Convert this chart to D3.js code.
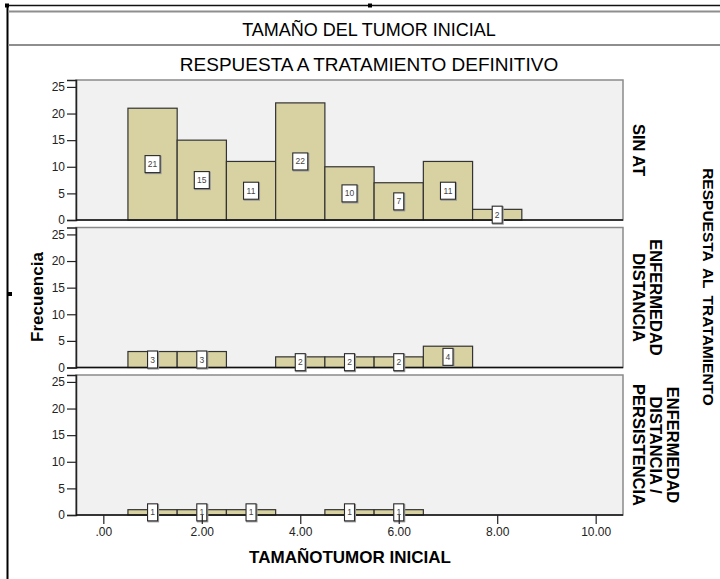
<!DOCTYPE html>
<html>
<head>
<meta charset="utf-8">
<script src="https://cdn.jsdelivr.net/npm/d3@7"></script>
<style>
  body { margin: 0; background: #fff; }
  svg { display: block; }
  text { font-family: "Liberation Sans", Arial, sans-serif; }
</style>
</head>
<body>
<svg id="chart" width="720" height="579"></svg>
<script>
// Histogram bins (tumour size, width 1, centred on whole numbers)
const binCenters = [1, 2, 3, 4, 5, 6, 7, 8];
// Frequencies per response group
const sinAT = [21, 15, 11, 22, 10, 7, 11, 2];
const enfermedadDistancia = [3, 3, 0, 2, 2, 2, 4, 0];
const distanciaPersistencia = [1, 1, 1, 0, 1, 1, 0, 0];
const panelSeries = [sinAT, enfermedadDistancia, distanciaPersistencia];
const panelLabels = [
  ["SIN AT"],
  ["ENFERMEDAD", "DISTANCIA"],
  ["ENFERMEDAD", "DISTANCIA /", "PERSISTENCIA"]
];
const yTicks = [0, 5, 10, 15, 20, 25];
const xTicks = [0, 2, 4, 6, 8, 10];
const xTickLabels = [".00", "2.00", "4.00", "6.00", "8.00", "10.00"];

const svg = d3.select("#chart");
const plotLeft = 76, plotRight = 623;
const panelTops = [80, 227.5, 375];
const panelH = 140;
const barFill = "#d8d2a2";

const x = d3.scaleLinear().domain([-0.555, 10.555]).range([plotLeft, plotRight]);

// Frame around the chart object
svg.append("line").attr("x1", 7.5).attr("x2", 7.5).attr("y1", 5).attr("y2", 579)
  .attr("stroke", "#000").attr("stroke-width", 2);
svg.append("line").attr("x1", 6).attr("x2", 720).attr("y1", 5.5).attr("y2", 5.5)
  .attr("stroke", "#111").attr("stroke-width", 1.5);
[[5, 3.5], [368, 3.5], [8, 292]].forEach(([hx, hy]) => {
  svg.append("rect").attr("x", hx).attr("y", hy).attr("width", 4).attr("height", 4).attr("fill", "#000");
});
[11.5, 45].forEach(yy => {
  svg.append("line").attr("x1", 8).attr("x2", 720).attr("y1", yy).attr("y2", yy)
    .attr("stroke", "#8e8e8e").attr("stroke-width", 2);
});

svg.append("text").attr("x", 369).attr("y", 36).attr("text-anchor", "middle")
  .attr("font-size", 18).attr("fill", "#000").text("TAMAÑO DEL TUMOR INICIAL");
svg.append("text").attr("x", 369).attr("y", 71).attr("text-anchor", "middle")
  .attr("font-size", 19).attr("fill", "#000").text("RESPUESTA A TRATAMIENTO DEFINITIVO");

panelSeries.forEach((values, i) => {
  const top = panelTops[i];
  const y = d3.scaleLinear().domain([0, 26.3]).range([top + panelH, top]);
  const g = svg.append("g");

  g.append("rect").attr("x", plotLeft).attr("y", top)
    .attr("width", plotRight - plotLeft).attr("height", panelH)
    .attr("fill", "#f1f1f1").attr("stroke", "#8a8a8a").attr("stroke-width", 1.5);

  const bins = binCenters.map((c, k) => ({ c, v: values[k] })).filter(d => d.v > 0);

  g.selectAll("rect.bar").data(bins).join("rect").attr("class", "bar")
    .attr("x", d => x(d.c - 0.5)).attr("y", d => y(d.v))
    .attr("width", d => x(d.c + 0.5) - x(d.c - 0.5))
    .attr("height", d => y(0) - y(d.v))
    .attr("fill", barFill).attr("stroke", "#333").attr("stroke-width", 1.2);

  // y axis
  const ya = g.append("g").attr("transform", `translate(${plotLeft},0)`)
    .call(d3.axisLeft(y).tickValues(yTicks).tickSize(9).tickPadding(2));
  ya.select(".domain").attr("stroke", "#222").attr("stroke-width", 1.5);
  ya.selectAll(".tick line").attr("stroke", "#222").attr("stroke-width", 1.2);
  ya.selectAll(".tick text").attr("font-size", 12).attr("fill", "#222")
    .attr("font-family", "Liberation Sans, Arial, sans-serif");

  // baseline
  g.append("line").attr("x1", plotLeft).attr("x2", plotRight)
    .attr("y1", y(0)).attr("y2", y(0)).attr("stroke", "#111").attr("stroke-width", 1.5);

  // count labels
  const boxW = d => String(d.v).length * 5 + 5;
  const lab = g.selectAll("g.lab").data(bins).join("g").attr("class", "lab")
    .attr("transform", d => `translate(${x(d.c)},${y(d.v / 2)})`);
  lab.append("rect")
    .attr("x", d => -boxW(d) / 2 + 0.8)
    .attr("y", -8.5 + 0.8)
    .attr("width", boxW).attr("height", 17)
    .attr("fill", "none").attr("stroke", "#9a9a9a").attr("stroke-width", 1.5);
  lab.append("rect")
    .attr("x", d => -boxW(d) / 2)
    .attr("y", -8.5)
    .attr("width", boxW).attr("height", 17)
    .attr("fill", "#fff").attr("stroke", "#2a2a2a").attr("stroke-width", 1.1);
  lab.append("text").attr("text-anchor", "middle").attr("y", 3)
    .attr("font-size", 8.5).attr("fill", "#444").text(d => d.v);

  // facet label on the right
  const lines = panelLabels[i];
  const n = lines.length;
  lines.forEach((t, j) => {
    svg.append("text")
      .attr("transform", `translate(${639 + (n - 1 - j) * 17},${top + panelH / 2}) rotate(90)`)
      .attr("text-anchor", "middle").attr("dominant-baseline", "central")
      .attr("font-size", 16.5).attr("font-weight", "bold").attr("fill", "#000").text(t);
  });

  if (i === panelSeries.length - 1) {
    const xa = g.append("g").attr("transform", `translate(0,${top + panelH})`)
      .call(d3.axisBottom(x).tickValues(xTicks).tickFormat((d, k) => xTickLabels[k]).tickSize(9).tickPadding(3));
    xa.select(".domain").remove();
    xa.selectAll(".tick line").attr("stroke", "#222").attr("stroke-width", 1.2);
    xa.selectAll(".tick text").attr("font-size", 12).attr("fill", "#222")
      .attr("font-family", "Liberation Sans, Arial, sans-serif");
  }
});

// Axis titles
svg.append("text").attr("transform", "translate(37,297) rotate(-90)")
  .attr("text-anchor", "middle").attr("dominant-baseline", "central")
  .attr("font-size", 17).attr("font-weight", "bold").attr("fill", "#000").text("Frecuencia");
svg.append("text").attr("x", 350).attr("y", 563).attr("text-anchor", "middle")
  .attr("font-size", 17).attr("font-weight", "bold").attr("fill", "#000").text("TAMAÑOTUMOR INICIAL");
svg.append("text").attr("transform", "translate(708,287) rotate(90)")
  .attr("text-anchor", "middle").attr("dominant-baseline", "central")
  .style("word-spacing", "3px")
  .attr("font-size", 15.5).attr("font-weight", "bold").attr("fill", "#000").text("RESPUESTA AL TRATAMIENTO");
</script>
</body>
</html>
